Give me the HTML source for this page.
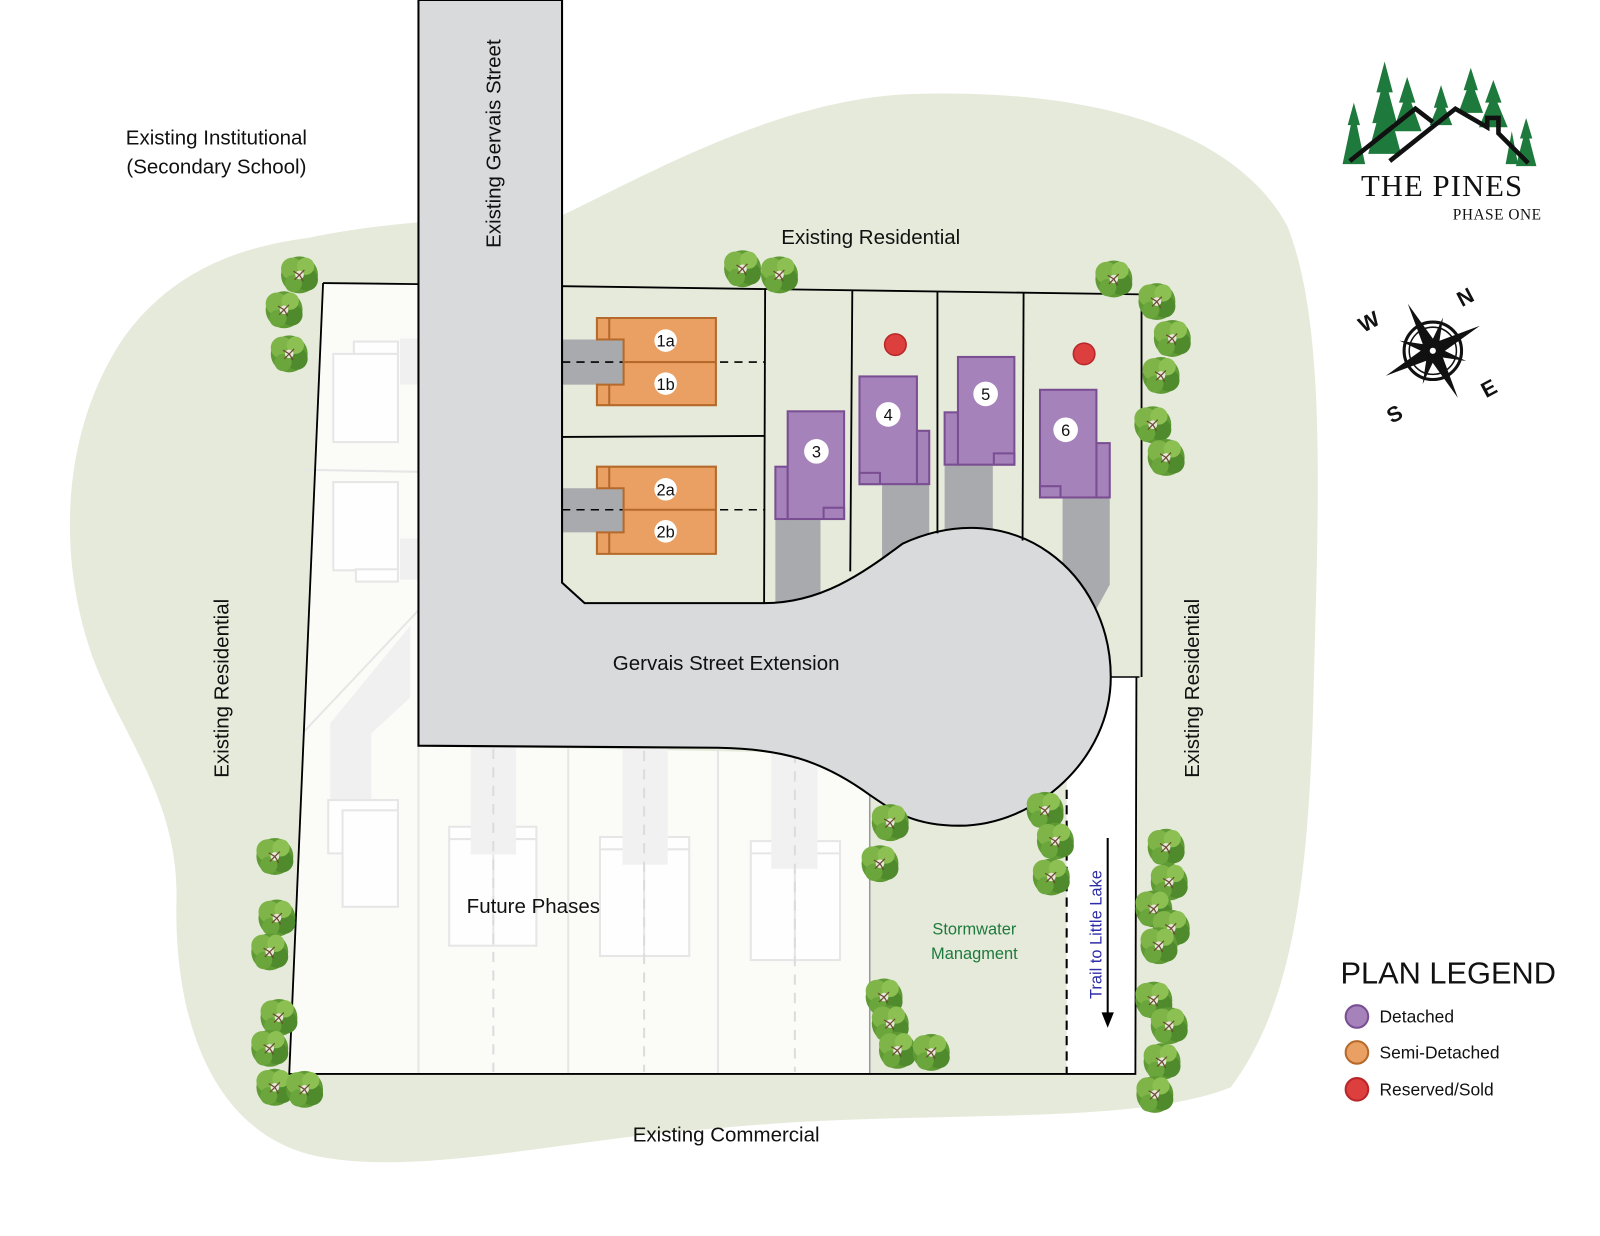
<!DOCTYPE html>
<html><head><meta charset="utf-8"><style>
html,body{margin:0;padding:0;background:#fff;}
svg{display:block;}
</style></head><body>
<svg width="1600" height="1236" viewBox="0 0 1560 1205" preserveAspectRatio="none" xmlns="http://www.w3.org/2000/svg" font-family="Liberation Sans, sans-serif">
<defs>
<g id="tr" transform="scale(1.2)">
<circle r="15" fill="#5f9a35"/>
<circle cx="-6" cy="-5" r="9" fill="#7fb548"/>
<circle cx="6" cy="4" r="9" fill="#4f8a2c"/>
<circle cx="5" cy="-7" r="7" fill="#8cc052"/>
<circle cx="-5" cy="7" r="7" fill="#6aa63c"/>
<circle r="3.5" fill="#e8e6dc"/>
<path d="M0 0 L-5 -3 M0 0 L4 -4 M0 0 L3 5 M0 0 L-4 4" stroke="#6b4a30" stroke-width="1"/>
</g>
</defs>

<path d="M300 232 C380 215 470 212 548 210 C650 160 760 100 880 92 C1050 85 1200 120 1255 220 C1295 320 1285 500 1280 700 C1275 860 1260 980 1200 1060 C1100 1100 900 1080 700 1100 C550 1110 400 1150 300 1125 C210 1100 170 1000 172 880 C175 780 120 720 90 640 C55 540 60 420 120 330 C170 260 240 240 300 232Z" fill="#e6eadb"/>

<path d="M315 276 L1113 287 L1107 1047 L282 1047 Z" fill="#e6eadb"/>
<path d="M315 276 L408 276 L408 727 L848 735 L848 1047 L282 1047 Z" fill="#fbfcf8"/>
<g stroke="#e6e6e6" stroke-width="2" fill="#fefefe">
<rect x="390" y="330" width="18" height="45" fill="#f0f0f0" stroke="none"/>
<rect x="390" y="525" width="18" height="40" fill="#f0f0f0" stroke="none"/>
<rect x="345" y="333" width="43" height="14"/>
<rect x="325" y="345" width="63" height="86"/>
<rect x="325" y="470" width="63" height="86"/>
<rect x="347" y="555" width="41" height="12"/>
<line x1="296" y1="458" x2="408" y2="460"/>
<line x1="290" y1="720" x2="408" y2="595"/>
<path d="M322 705 L322 800 L362 800 L362 715 L400 680 L400 610 Z" fill="#f0f0f0" stroke="none"/>
<rect x="320" y="780" width="68" height="52"/>
<rect x="334" y="790" width="54" height="94"/>
<rect x="438" y="806" width="85" height="116"/>
<rect x="585" y="816" width="87" height="116"/>
<rect x="732" y="820" width="87" height="116"/>
<line x1="438" y1="818" x2="523" y2="818"/><line x1="585" y1="828" x2="672" y2="828"/><line x1="732" y1="832" x2="819" y2="832"/>
<line x1="481" y1="833" x2="481" y2="922"/><line x1="628" y1="843" x2="628" y2="932"/><line x1="775" y1="847" x2="775" y2="936"/>
<rect x="459" y="728" width="44" height="105" fill="#f1f1f1" stroke="none"/>
<rect x="607" y="730" width="44" height="113" fill="#f1f1f1" stroke="none"/>
<rect x="752" y="732" width="45" height="115" fill="#f1f1f1" stroke="none"/>
<line x1="408" y1="727" x2="408" y2="1047"/><line x1="554" y1="728" x2="554" y2="1047"/><line x1="700" y1="730" x2="700" y2="1047"/>
<g stroke-dasharray="10 8" stroke="#dcdcde"><line x1="481" y1="730" x2="481" y2="1045"/><line x1="628" y1="732" x2="628" y2="1045"/><line x1="775" y1="734" x2="775" y2="1045"/></g>
</g>
<rect x="1040" y="660" width="68" height="387" fill="#fff"/>
<line x1="1083" y1="660" x2="1111" y2="660" stroke="#000" stroke-width="1.5"/>
<line x1="848" y1="770" x2="848" y2="1047" stroke="#999" stroke-width="1.5"/>
<line x1="1040" y1="770" x2="1040" y2="1047" stroke="#000" stroke-width="2" stroke-dasharray="9 6"/>

<g fill="#a9aaad">
<rect x="756" y="505" width="44" height="90"/>
<rect x="860" y="470" width="46" height="90"/>
<rect x="921" y="452" width="47" height="80"/>
<path d="M1036 484 L1082 484 L1082 570 L1060 610 L1036 610Z"/>
<rect x="548" y="331" width="60" height="44"/>
<rect x="548" y="476" width="60" height="43"/>
</g>

<path d="M408 0 L548 0 L548 568 L570 588 L745 588 C800 588 840 560 880 530 C990 480 1083 560 1083 660 C1083 740 1010 805 935 805 C890 805 870 790 848 775 C800 740 760 730 700 729 L408 727 Z" fill="#d9dadb" stroke="#000" stroke-width="2"/>

<g stroke="#000" stroke-width="1.8" fill="none">
<line x1="315" y1="276" x2="408" y2="277"/>
<path d="M548 279 L1113 287 L1113 660"/>
<path d="M1108 660 L1107 1047 L282 1047 L315 276"/>
<line x1="548" y1="426" x2="746" y2="425"/>
<line x1="746" y1="281" x2="745" y2="588"/>
<line x1="831" y1="283" x2="829" y2="557"/>
<line x1="914" y1="284" x2="914" y2="520"/>
<line x1="998" y1="285" x2="997" y2="527"/>
</g>
<g stroke="#000" stroke-width="1.5" stroke-dasharray="8 6"><line x1="548" y1="353" x2="746" y2="353"/><line x1="548" y1="497" x2="746" y2="497"/></g>

<g fill="#e9a062" stroke="#b5692a" stroke-width="2">
<path d="M582 310 L698 310 L698 395 L582 395 L582 375 L608 375 L608 331 L582 331Z"/>
<line x1="594" y1="310" x2="594" y2="331"/><line x1="594" y1="375" x2="594" y2="395"/>
<line x1="608" y1="353" x2="698" y2="353"/>
<path d="M582 455 L698 455 L698 540 L582 540 L582 519 L608 519 L608 476 L582 476Z"/>
<line x1="594" y1="455" x2="594" y2="476"/><line x1="594" y1="519" x2="594" y2="540"/>
<line x1="608" y1="497" x2="698" y2="497"/>
</g>
<g fill="#a682bb" stroke="#7a4e92" stroke-width="2">
<rect x="756" y="455" width="12" height="51"/><rect x="768" y="401" width="55" height="105"/><rect x="803" y="495" width="20" height="11"/>
<rect x="894" y="420" width="12" height="52"/><rect x="838" y="367" width="56" height="105"/><rect x="838" y="461" width="20" height="11"/>
<rect x="921" y="402" width="13" height="51"/><rect x="934" y="348" width="55" height="105"/><rect x="969" y="442" width="20" height="11"/>
<rect x="1069" y="432" width="13" height="53"/><rect x="1014" y="380" width="55" height="105"/><rect x="1014" y="474" width="20" height="11"/>
</g>
<g fill="#fff"><circle cx="649" cy="332" r="11"/><circle cx="649" cy="374" r="11"/><circle cx="649" cy="477" r="11"/><circle cx="649" cy="518" r="11"/>
<circle cx="796" cy="440" r="12"/><circle cx="866" cy="404" r="12"/><circle cx="961" cy="384" r="12"/><circle cx="1039" cy="419" r="12"/></g>
<g font-size="16" text-anchor="middle" fill="#111"><text x="649" y="338">1a</text><text x="649" y="380">1b</text><text x="649" y="483">2a</text><text x="649" y="524">2b</text>
<text x="796" y="446">3</text><text x="866" y="410">4</text><text x="961" y="390">5</text><text x="1039" y="425">6</text></g>
<g fill="#dc3f3d" stroke="#b8262a" stroke-width="1.5"><circle cx="873" cy="336" r="10.5"/><circle cx="1057" cy="345" r="10.5"/></g>

<g>
<use href="#tr" x="292" y="268"/><use href="#tr" x="277" y="302"/><use href="#tr" x="282" y="345"/>
<use href="#tr" x="724" y="262"/><use href="#tr" x="760" y="268"/><use href="#tr" x="1086" y="272"/>
<use href="#tr" x="1128" y="294"/><use href="#tr" x="1143" y="330"/><use href="#tr" x="1132" y="366"/><use href="#tr" x="1124" y="414"/><use href="#tr" x="1137" y="446"/>
<use href="#tr" x="268" y="835"/><use href="#tr" x="270" y="895"/><use href="#tr" x="263" y="928"/><use href="#tr" x="272" y="992"/><use href="#tr" x="263" y="1022"/><use href="#tr" x="268" y="1060"/><use href="#tr" x="297" y="1062"/>
<use href="#tr" x="868" y="802"/><use href="#tr" x="858" y="842"/><use href="#tr" x="1019" y="790"/><use href="#tr" x="1029" y="820"/><use href="#tr" x="1025" y="855"/>
<use href="#tr" x="862" y="972"/><use href="#tr" x="868" y="998"/><use href="#tr" x="875" y="1024"/><use href="#tr" x="908" y="1026"/>
<use href="#tr" x="1137" y="826"/><use href="#tr" x="1140" y="860"/><use href="#tr" x="1125" y="886"/><use href="#tr" x="1142" y="905"/><use href="#tr" x="1130" y="922"/>
<use href="#tr" x="1125" y="975"/><use href="#tr" x="1140" y="1000"/><use href="#tr" x="1133" y="1035"/><use href="#tr" x="1126" y="1067"/>
</g>

<line x1="1080" y1="817" x2="1080" y2="988" stroke="#000" stroke-width="2"/>
<path d="M1074 987 L1086 987 L1080 1002Z" fill="#000"/>
<text transform="translate(1074 974) rotate(-90)" font-size="16" fill="#2e2ea8">Trail to Little Lake</text>
<text x="950" y="911" font-size="16" fill="#1e7a3c" text-anchor="middle">Stormwater</text>
<text x="950" y="935" font-size="16" fill="#1e7a3c" text-anchor="middle">Managment</text>

<g fill="#111" font-size="20">
<text x="211" y="141" text-anchor="middle">Existing Institutional</text>
<text x="211" y="169" text-anchor="middle">(Secondary School)</text>
<text x="849" y="238" text-anchor="middle">Existing Residential</text>
<text transform="translate(488 140) rotate(-90)" text-anchor="middle">Existing Gervais Street</text>
<text x="708" y="653" text-anchor="middle">Gervais Street Extension</text>
<text x="520" y="890" text-anchor="middle">Future Phases</text>
<text x="708" y="1113" text-anchor="middle">Existing Commercial</text>
<text transform="translate(223 671) rotate(-90)" text-anchor="middle">Existing Residential</text>
<text transform="translate(1169 671) rotate(-90)" text-anchor="middle">Existing Residential</text>
</g>

<!-- logo -->
<g fill="#1e7a3c">
<path d="M1350 60 L1358 90 L1354 90 L1362 120 L1358 120 L1366 150 L1334 150 L1342 120 L1338 120 L1346 90 L1342 90Z"/>
<path d="M1372 75 L1380 100 L1376 100 L1386 128 L1358 128 L1368 100 L1364 100Z"/>
<path d="M1405 83 L1412 105 L1409 105 L1416 122 L1394 122 L1401 105 L1398 105Z"/>
<path d="M1434 66 L1441 88 L1438 88 L1446 110 L1422 110 L1430 88 L1427 88Z"/>
<path d="M1456 78 L1464 100 L1460 100 L1470 124 L1442 124 L1452 100 L1448 100Z"/>
<path d="M1320 100 L1326 122 L1323 122 L1331 160 L1309 160 L1317 122 L1314 122Z"/>
<path d="M1488 115 L1494 135 L1491 135 L1498 162 L1478 162 L1485 135 L1482 135Z"/>
<path d="M1474 128 L1480 160 L1468 160Z"/>
</g>
<path d="M1316 157 L1380 106 L1397 119 M1355 157 L1419 106 L1450 124 L1450 115 L1461 115 L1461 130 L1490 159" fill="none" stroke="#111" stroke-width="4.5"/>
<text x="1406" y="191" style="font-family:'Liberation Serif',serif" font-size="30" text-anchor="middle" fill="#111" letter-spacing="1">THE PINES</text>
<text x="1503" y="214" style="font-family:'Liberation Serif',serif" font-size="15" text-anchor="end" fill="#111" letter-spacing="0.5">PHASE ONE</text>

<!-- compass -->
<g transform="translate(1397 342)">
<circle r="28" fill="none" stroke="#111" stroke-width="3"/>
<circle r="23" fill="none" stroke="#111" stroke-width="1.5"/>
<g transform="rotate(-28)" fill="#111">
<path d="M0 -52 L7 0 L0 52 L-7 0Z"/>
<path d="M-52 0 L0 -7 L52 0 L0 7Z"/>
<g transform="rotate(45)"><path d="M0 -34 L5 0 L0 34 L-5 0Z"/><path d="M-34 0 L0 -5 L34 0 L0 5Z"/></g>
</g>
<circle r="3" fill="#fff"/>
</g>
<g font-weight="bold" font-size="21" fill="#111" text-anchor="middle">
<text transform="translate(1432 296) rotate(-28)">N</text>
<text transform="translate(1338 320) rotate(-28)">W</text>
<text transform="translate(1455 385) rotate(-28)">E</text>
<text transform="translate(1363 410) rotate(-28)">S</text>
</g>

<text x="1307" y="959" font-size="30" fill="#111">PLAN LEGEND</text>
<circle cx="1323" cy="991" r="11" fill="#a682bb" stroke="#7a4e92" stroke-width="2"/>
<circle cx="1323" cy="1026" r="11" fill="#e9a062" stroke="#b5692a" stroke-width="2"/>
<circle cx="1323" cy="1062" r="11" fill="#dc3f3d" stroke="#b8262a" stroke-width="2"/>
<g font-size="17" fill="#111"><text x="1345" y="997">Detached</text><text x="1345" y="1032">Semi-Detached</text><text x="1345" y="1068">Reserved/Sold</text></g>
</svg>
</body></html>
